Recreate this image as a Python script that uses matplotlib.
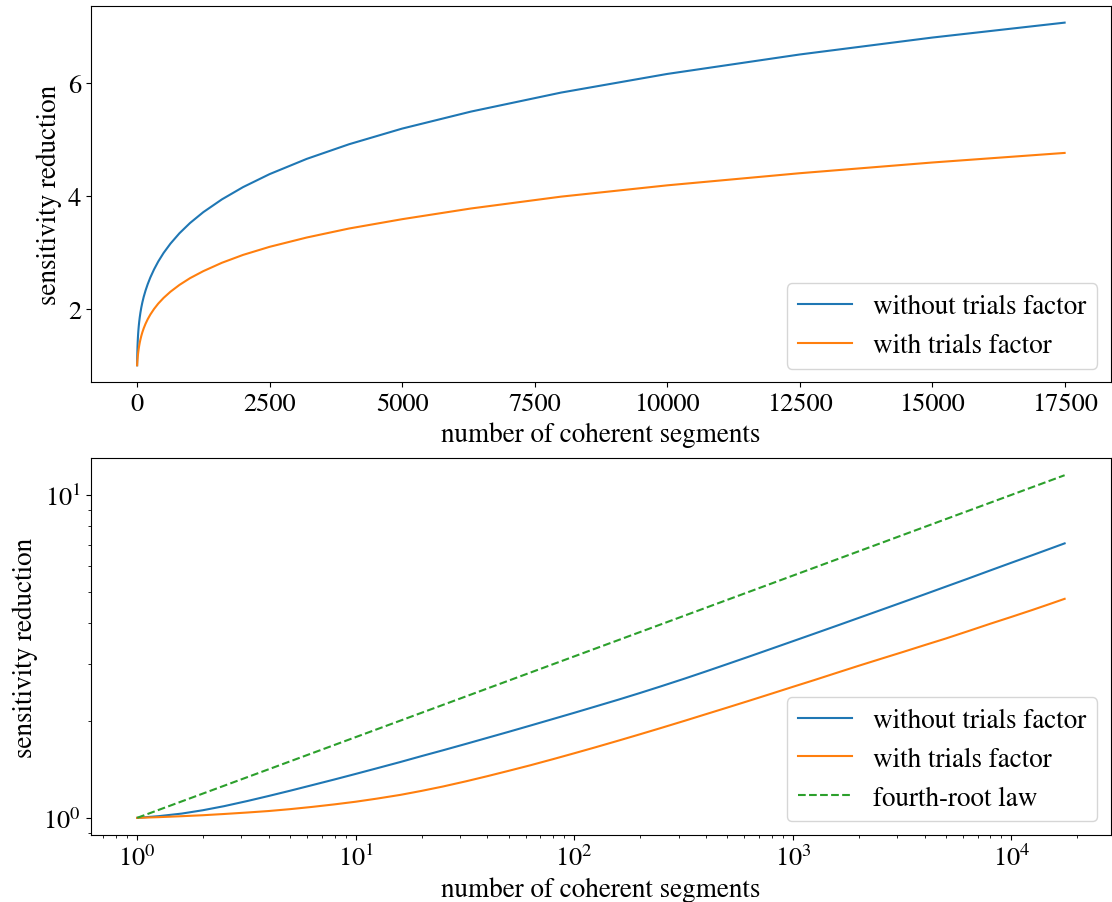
import matplotlib
matplotlib.use("Agg")
from matplotlib import pyplot as plt

plt.rcParams['font.family'] = 'STIXGeneral'
plt.rcParams['mathtext.fontset'] = 'stix'
plt.rcParams['font.size'] = 19.5
plt.rcParams['xtick.labelsize'] = 19
plt.rcParams['ytick.labelsize'] = 19

# number of coherent segments
segments = [1, 1.25, 1.6, 2, 2.5, 3.2, 4, 5, 6.3, 8,
            10, 12.5, 16, 20, 25, 32, 40, 50, 63, 80,
            100, 125, 160, 200, 250, 320, 400, 500, 630, 800,
            1000, 1250, 1600, 2000, 2500, 3200, 4000, 5000, 6300, 8000,
            10000, 12500, 15000, 17500]

without_trials = [1.000, 1.012, 1.031, 1.056, 1.087, 1.128, 1.169, 1.213, 1.262, 1.315,
                  1.368, 1.424, 1.489, 1.553, 1.618, 1.695, 1.769, 1.846, 1.931, 2.024,
                  2.115, 2.212, 2.325, 2.436, 2.556, 2.699, 2.840, 2.991, 3.157, 3.341,
                  3.523, 3.715, 3.941, 4.159, 4.389, 4.659, 4.919, 5.196, 5.498, 5.835,
                  6.165, 6.510, 6.810, 7.075]

with_trials = [1.000, 1.005, 1.012, 1.019, 1.028, 1.039, 1.050, 1.064, 1.081, 1.101,
               1.122, 1.147, 1.178, 1.212, 1.250, 1.298, 1.346, 1.398, 1.455, 1.520,
               1.585, 1.654, 1.736, 1.815, 1.899, 1.998, 2.094, 2.194, 2.304, 2.425,
               2.545, 2.669, 2.817, 2.957, 3.100, 3.265, 3.425, 3.590, 3.780, 3.990,
               4.190, 4.405, 4.595, 4.765]

fourth_root_n = [1, 17500]
fourth_root_v = [1.0, 11.5]

fig, (ax1, ax2) = plt.subplots(2, 1, figsize=(11.12, 9.03), dpi=100)
fig.subplots_adjust(left=0.0816, right=0.9991, top=0.9928, bottom=0.0742,
                    hspace=0.2008)

ax1.plot(segments, without_trials, label='without trials factor')
ax1.plot(segments, with_trials, label='with trials factor')
ax1.set_xlabel('number of coherent segments')
ax1.set_ylabel('sensitivity reduction')
ax1.set_yticks([2, 4, 6])
ax1.legend(loc='lower right')

ax2.loglog(segments, without_trials, label='without trials factor')
ax2.loglog(segments, with_trials, label='with trials factor')
ax2.loglog(fourth_root_n, fourth_root_v, '--', label='fourth-root law')
ax2.set_xlabel('number of coherent segments')
ax2.set_ylabel('sensitivity reduction')
ax2.legend(loc='lower right')

plt.savefig('out.png', dpi=100)
